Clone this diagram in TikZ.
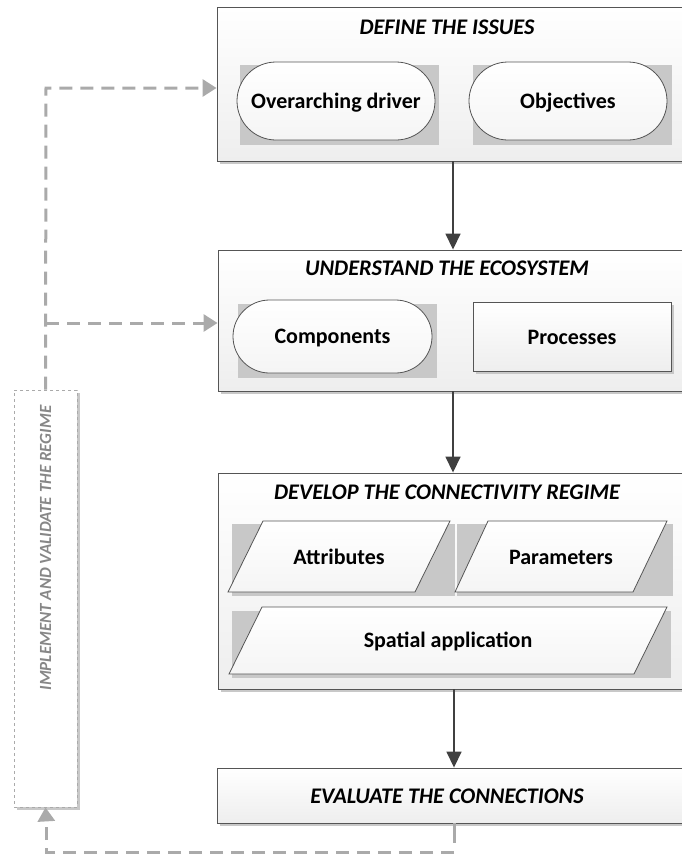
\documentclass[tikz,border=0pt]{standalone}
\usepackage{fontspec}
\setmainfont{Carlito}
\usetikzlibrary{arrows.meta,calc,shadows}
\definecolor{boxline}{RGB}{85,85,85}
\definecolor{boxbot}{RGB}{238,238,238}
\definecolor{shd}{RGB}{200,200,200}
\definecolor{arrcol}{RGB}{64,64,64}
\definecolor{dashcol}{RGB}{170,170,170}
\definecolor{impltext}{RGB}{135,135,135}
\begin{document}
\begin{tikzpicture}[x=1pt,y=-1pt,
  bigbox/.style={draw=boxline, line width=0.9pt, top color=white, bottom color=boxbot,
    inner sep=0pt, drop shadow={shadow xshift=3pt, shadow yshift=-3pt, fill=shd, opacity=1}},
  title/.style={font=\fontsize{22.3}{26}\selectfont\bfseries\itshape, inner sep=0pt},
  item/.style={font=\fontsize{22}{26}\selectfont\bfseries, inner sep=0pt},
  stadium/.style={draw=boxline, line width=0.8pt, top color=white, bottom color=boxbot!60!white, inner sep=0pt},
  shadowrect/.style={fill=shd, draw=none},
  arr/.style={draw=arrcol, line width=1.6pt, -{Triangle[length=16pt,width=15pt]}},
  dasharr/.style={draw=dashcol, line width=3pt, dash pattern=on 13pt off 8pt,
    -{Triangle[length=14pt,width=17pt]}},
  dashline/.style={draw=dashcol, line width=3pt, dash pattern=on 13pt off 8pt}
]
\useasboundingbox (0,0) rectangle (682,854);

% ---------- Box 1 ----------
\node[bigbox, minimum width=475pt, minimum height=154pt] (define) at (454.5,84) {};
\node[title] (t1) at (447,27) {DEFINE THE ISSUES};

% ---------- Box 2 ----------
\node[bigbox, minimum width=474pt, minimum height=141pt] (box2) at (455,320.5) {};
\node[title] (t2) at (447,268) {UNDERSTAND THE ECOSYSTEM};

% ---------- Box 3 ----------
\node[bigbox, minimum width=474pt, minimum height=216pt] (box3) at (455,581) {};
\node[title] (t3) at (447,492) {DEVELOP THE CONNECTIVITY REGIME};

% ---------- Box 4 ----------
\node[bigbox, minimum width=475pt, minimum height=55pt] (eval) at (454.5,795.5) {};
\node[title] (t4) at (447,796) {EVALUATE THE CONNECTIONS};

% ---------- inner shapes of box 1 ----------
\fill[shadowrect] (240,65) rectangle (439,145);
\fill[shadowrect] (473,65) rectangle (672,145);
\node[stadium, minimum width=198pt, minimum height=78pt, rounded corners=39pt] (ov) at (336,101) {};
\node[stadium, minimum width=198pt, minimum height=78pt, rounded corners=39pt] (obj) at (568,101) {};
\node[item] (ovt) at (336,103) {Overarching driver};
\node[item] (objt) at (568,103) {Objectives};

% ---------- inner shapes of box 2 ----------
\fill[shadowrect] (238,304) rectangle (437,378);
\node[stadium, minimum width=199pt, minimum height=73pt, rounded corners=36.5pt] (comp) at (332.5,336.5) {};
\node[item] (compt) at (332.5,338) {Components};
\node[draw=boxline, line width=0.8pt, top color=white, bottom color=boxbot, inner sep=0pt,
  minimum width=198pt, minimum height=69pt,
  drop shadow={shadow xshift=3pt, shadow yshift=-3pt, fill=shd, opacity=1}] (proc) at (572,336.5) {};
\node[item] (proct) at (572,337) {Processes};

% ---------- inner shapes of box 3 ----------
\fill[shadowrect] (232,524) rectangle (455,596);
\fill[shadowrect] (457,524) rectangle (673,596);
\fill[shadowrect] (232,611) rectangle (671,678);
\path[draw=boxline, line width=0.8pt, top color=white, bottom color=boxbot!60!white] (228,592) -- (263,521) -- (450,521) -- (415,592) -- cycle;
\path[draw=boxline, line width=0.8pt, top color=white, bottom color=boxbot!60!white] (455,592) -- (488,521) -- (667,521) -- (633,592) -- cycle;
\path[draw=boxline, line width=0.8pt, top color=white, bottom color=boxbot!60!white] (229,674) -- (262,607) -- (667,607) -- (634,674) -- cycle;
\node[item] (attr) at (339,557) {Attributes};
\node[item] (param) at (561,557) {Parameters};
\node[item] (spat) at (448,641) {Spatial application};

% ---------- implement box ----------
\node[draw=dashcol, line width=0.8pt, dashed, fill=white, inner sep=0pt,
  minimum width=63pt, minimum height=417pt,
  drop shadow={shadow xshift=3pt, shadow yshift=-3pt, fill=shd, opacity=1}] (impl) at (45.5,598.5) {};
\node[rotate=90, text=impltext, font=\fontsize{17}{20}\selectfont\bfseries\itshape, inner sep=0pt]
  (implt) at (45.5,548) {IMPLEMENT AND VALIDATE THE REGIME};

% ---------- solid arrows ----------
\draw[arr] ([xshift=-1.5pt]define.south) -- ([xshift=-2pt]box2.north);
\draw[arr] ([xshift=-2pt]box2.south) -- ([xshift=-2pt]box3.north);
\draw[arr] ([xshift=-1pt]box3.south) -- ([xshift=-0.5pt]eval.north);

% ---------- dashed feedback ----------
\coordinate (c1) at (46,88);
\coordinate (c2) at (46,323);
\coordinate (c3) at (46,852);
\coordinate (c4) at (454,852);
\draw[dashcol, line width=3pt] ([xshift=-0.5pt]eval.south) -- (454,843);
\draw[dashline] (c4) -- (c3) -- (46,815);
\draw[-{Triangle[length=14pt,width=17pt]}, draw=dashcol, fill=dashcol, line width=3pt] (46,816) -- (impl.south);
\draw[dasharr] (impl.north) -- (c1) -- (define.west |- c1);
\draw[dasharr] (c2) -- (box2.west |- c2);
\end{tikzpicture}
\end{document}
